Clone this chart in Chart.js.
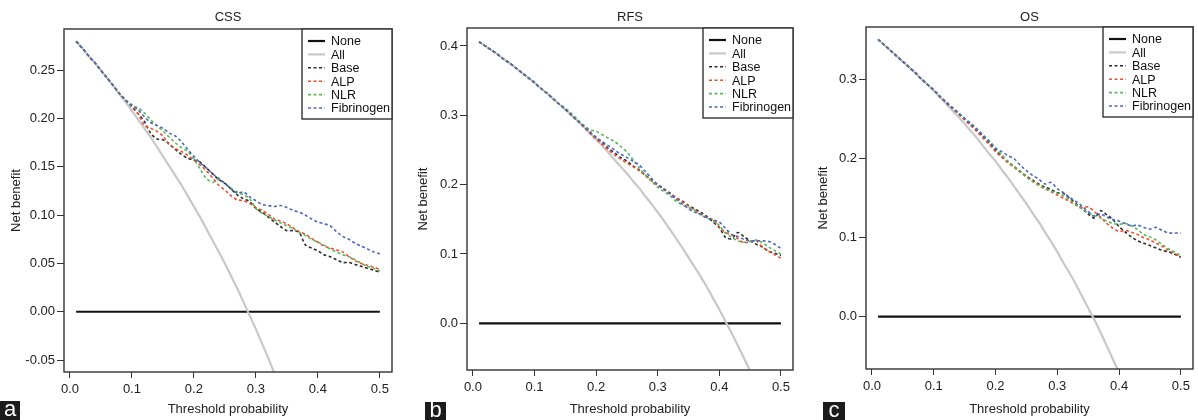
<!DOCTYPE html>
<html lang="en">
<head>
<meta charset="UTF-8">
<title>Decision curves: CSS, RFS, OS</title>
<style>
  body { margin: 0; background: #fff; width: 1198px; height: 420px; position: relative; overflow: hidden; font-family: "Liberation Sans", Arial, sans-serif; }
  canvas { position: absolute; top: 0; }
  .tag { position: absolute; background: #1c1c1c; color: #fff; font-size: 22px; line-height: 16px; text-align: center; }
</style>
</head>
<body>
<canvas id="cssChart" width="400" height="420" style="left:0px"></canvas>
<canvas id="rfsChart" width="400" height="420" style="left:400px"></canvas>
<canvas id="osChart" width="400" height="420" style="left:798px"></canvas>
<div class="tag" style="left:0px;top:401px;width:20px;height:19px">a</div>
<div class="tag" style="left:425px;top:402px;width:21px;height:18px">b</div>
<div class="tag" style="left:823px;top:402px;width:22px;height:18px">c</div>
<script src="https://cdn.jsdelivr.net/npm/chart.js"></script>
<script>
  // threshold probabilities (x) shared by every curve
  const thresholds = [0.01,0.02,0.03,0.04,0.05,0.06,0.07,0.08,0.09,0.10,
                      0.11,0.12,0.13,0.14,0.15,0.16,0.17,0.18,0.19,0.20,
                      0.21,0.22,0.23,0.24,0.25,0.26,0.27,0.28,0.29,0.30,
                      0.31,0.32,0.33,0.34,0.35,0.36,0.37,0.38,0.39,0.40,
                      0.41,0.42,0.43,0.44,0.45,0.46,0.47,0.48,0.49,0.50];
  const noneX = [0.01, 0.50];
  const noneY = [0, 0];
  const xTicks = [0, 0.1, 0.2, 0.3, 0.4, 0.5];

  // CSS
  const cssAll = [0.280,0.273,0.265,0.258,0.250,0.242,0.234,0.225,0.217,0.208,
                  0.199,0.190,0.181,0.171,0.161,0.151,0.141,0.131,0.120,0.109,
                  0.098,0.086,0.074,0.062,0.050,0.037,0.024,0.010,-0.004,-0.018,
                  -0.033,-0.048,-0.064,-0.080];
  const cssBase = [0.280,0.273,0.265,0.258,0.250,0.242,0.234,0.226,0.219,0.212,
                   0.205,0.197,0.185,0.179,0.178,0.174,0.168,0.163,0.159,0.157,
                   0.155,0.149,0.143,0.137,0.133,0.127,0.121,0.117,0.114,0.107,
                   0.103,0.098,0.093,0.088,0.084,0.084,0.082,0.069,0.066,0.063,
                   0.059,0.057,0.054,0.051,0.051,0.049,0.047,0.045,0.043,0.041];
  const cssAlp = [0.280,0.273,0.265,0.258,0.250,0.242,0.234,0.226,0.219,0.213,
                  0.205,0.193,0.190,0.187,0.182,0.173,0.169,0.166,0.162,0.157,
                  0.152,0.146,0.139,0.131,0.126,0.120,0.116,0.115,0.112,0.108,
                  0.105,0.101,0.096,0.094,0.091,0.087,0.083,0.080,0.076,0.072,
                  0.068,0.066,0.064,0.062,0.057,0.053,0.050,0.048,0.046,0.044];
  const cssNlr = [0.280,0.273,0.265,0.258,0.250,0.242,0.234,0.226,0.219,0.213,
                  0.211,0.206,0.199,0.193,0.187,0.181,0.175,0.170,0.166,0.158,
                  0.148,0.138,0.134,0.137,0.133,0.128,0.124,0.121,0.117,0.107,
                  0.102,0.099,0.095,0.092,0.089,0.086,0.082,0.079,0.075,0.072,
                  0.069,0.065,0.062,0.059,0.057,0.054,0.050,0.047,0.045,0.042];
  const cssFib = [0.280,0.273,0.265,0.258,0.250,0.242,0.234,0.226,0.219,0.214,
                  0.209,0.202,0.196,0.193,0.190,0.185,0.182,0.176,0.168,0.161,
                  0.154,0.149,0.143,0.138,0.133,0.127,0.123,0.124,0.119,0.115,
                  0.111,0.110,0.109,0.110,0.108,0.105,0.103,0.100,0.096,0.093,
                  0.091,0.089,0.083,0.078,0.075,0.071,0.068,0.065,0.062,0.060];

  // RFS
  const rfsAll = [0.406,0.400,0.394,0.388,0.381,0.375,0.368,0.361,0.354,0.347,
                  0.339,0.332,0.324,0.316,0.308,0.300,0.292,0.283,0.274,0.265,
                  0.256,0.246,0.236,0.226,0.216,0.205,0.195,0.183,0.172,0.160,
                  0.148,0.135,0.122,0.109,0.095,0.081,0.067,0.052,0.036,0.020,
                  0.003,-0.014,-0.032,-0.050,-0.069,-0.089];
  const rfsBase = [0.406,0.400,0.394,0.388,0.381,0.375,0.368,0.361,0.354,0.347,
                   0.339,0.332,0.324,0.316,0.309,0.300,0.292,0.284,0.276,0.268,
                   0.261,0.252,0.246,0.239,0.234,0.227,0.221,0.214,0.206,0.200,
                   0.194,0.188,0.181,0.176,0.170,0.165,0.160,0.154,0.146,0.138,
                   0.124,0.122,0.131,0.125,0.119,0.114,0.110,0.104,0.101,0.098];
  const rfsAlp = [0.406,0.400,0.394,0.388,0.381,0.375,0.368,0.361,0.354,0.347,
                  0.339,0.332,0.324,0.316,0.309,0.300,0.292,0.283,0.274,0.266,
                  0.258,0.250,0.243,0.237,0.231,0.226,0.220,0.213,0.205,0.199,
                  0.193,0.187,0.181,0.175,0.169,0.163,0.158,0.153,0.149,0.139,
                  0.131,0.128,0.122,0.116,0.118,0.119,0.110,0.104,0.099,0.094];
  const rfsNlr = [0.406,0.400,0.394,0.388,0.381,0.375,0.368,0.361,0.354,0.347,
                  0.339,0.332,0.324,0.316,0.310,0.303,0.294,0.286,0.279,0.277,
                  0.272,0.267,0.262,0.255,0.247,0.236,0.224,0.214,0.205,0.196,
                  0.190,0.184,0.176,0.171,0.167,0.163,0.156,0.152,0.148,0.141,
                  0.130,0.124,0.119,0.117,0.118,0.120,0.116,0.110,0.105,0.100];
  const rfsFib = [0.406,0.400,0.394,0.388,0.381,0.375,0.368,0.361,0.354,0.347,
                  0.339,0.332,0.324,0.316,0.309,0.300,0.292,0.284,0.276,0.268,
                  0.262,0.256,0.250,0.244,0.239,0.234,0.228,0.219,0.209,0.200,
                  0.193,0.186,0.179,0.172,0.165,0.160,0.157,0.152,0.149,0.146,
                  0.137,0.128,0.125,0.121,0.119,0.119,0.119,0.118,0.114,0.108];

  // OS
  const osAll = [0.351,0.344,0.337,0.330,0.323,0.316,0.309,0.301,0.294,0.286,
                 0.278,0.270,0.261,0.253,0.244,0.235,0.226,0.216,0.206,0.197,
                 0.186,0.176,0.165,0.154,0.143,0.131,0.120,0.107,0.095,0.082,
                 0.068,0.055,0.041,0.026,0.011,-0.004,-0.020,-0.037,-0.054,-0.071];
  const osBase = [0.351,0.344,0.337,0.330,0.323,0.316,0.309,0.301,0.294,0.287,
                  0.279,0.271,0.264,0.257,0.250,0.243,0.236,0.228,0.220,0.211,
                  0.203,0.196,0.190,0.184,0.178,0.173,0.168,0.164,0.161,0.157,
                  0.156,0.150,0.143,0.137,0.130,0.125,0.134,0.129,0.123,0.114,
                  0.107,0.101,0.096,0.093,0.090,0.087,0.084,0.082,0.079,0.075];
  const osAlp = [0.351,0.344,0.337,0.330,0.323,0.316,0.309,0.301,0.294,0.287,
                 0.278,0.271,0.264,0.257,0.249,0.242,0.234,0.226,0.218,0.209,
                 0.202,0.195,0.189,0.183,0.177,0.172,0.167,0.162,0.158,0.154,
                 0.150,0.146,0.141,0.138,0.139,0.133,0.126,0.118,0.112,0.108,
                 0.109,0.107,0.104,0.100,0.097,0.093,0.089,0.084,0.080,0.075];
  const osNlr = [0.351,0.344,0.337,0.330,0.323,0.316,0.309,0.301,0.294,0.287,
                 0.279,0.272,0.265,0.258,0.251,0.245,0.238,0.230,0.223,0.214,
                 0.205,0.197,0.190,0.183,0.177,0.171,0.166,0.162,0.159,0.156,
                 0.153,0.148,0.142,0.136,0.132,0.128,0.125,0.121,0.118,0.117,
                 0.118,0.115,0.110,0.104,0.101,0.097,0.091,0.086,0.082,0.077];
  const osFib = [0.351,0.344,0.337,0.330,0.323,0.316,0.309,0.301,0.294,0.287,
                 0.279,0.272,0.265,0.258,0.251,0.244,0.237,0.229,0.221,0.213,
                 0.209,0.204,0.200,0.192,0.185,0.179,0.174,0.168,0.170,0.162,
                 0.157,0.151,0.146,0.140,0.133,0.127,0.130,0.126,0.123,0.121,
                 0.118,0.115,0.116,0.113,0.111,0.113,0.109,0.106,0.106,0.106];

  const FONT = '"Liberation Sans", Arial, sans-serif';
  Chart.defaults.font.family = FONT;
  Chart.defaults.font.size = 13;
  Chart.defaults.color = '#222';

  const pts = (xs, ys) => ys.map((y, i) => ({x: xs[i], y: y}));

  // box round the plot, panel title and the legend in the upper right
  const framePlugin = {
    id: 'frame',
    afterDraw(chart, args, opts) {
      const {ctx, chartArea: a} = chart;
      ctx.save();
      ctx.strokeStyle = '#333';
      ctx.lineWidth = 1.4;
      ctx.strokeRect(a.left, a.top, a.right - a.left, a.bottom - a.top);

      ctx.fillStyle = '#222';
      ctx.font = '13px ' + FONT;
      ctx.textAlign = 'center';
      ctx.textBaseline = 'middle';
      ctx.fillText(opts.title, (a.left + a.right) / 2, 17);

      const w = 90, h = 90;
      const lx = a.right - w, ly = a.top;
      ctx.fillStyle = '#fff';
      ctx.fillRect(lx, ly, w, h);
      ctx.strokeRect(lx, ly, w, h);
      ctx.textAlign = 'left';
      ctx.font = '12.5px ' + FONT;
      chart.data.datasets.forEach((ds, i) => {
        const ry = ly + 12 + i * 13.4;
        ctx.beginPath();
        ctx.setLineDash(ds.borderDash || []);
        ctx.strokeStyle = ds.borderColor;
        ctx.lineWidth = ds.borderWidth;
        ctx.moveTo(lx + 6, ry);
        ctx.lineTo(lx + 23, ry);
        ctx.stroke();
        ctx.setLineDash([]);
        ctx.fillStyle = '#111';
        ctx.fillText(ds.label, lx + 29, ry + 1);
      });
      ctx.restore();
    }
  };

  function makePanel(id, title, allY, base, alp, nlr, fib, yMin, yMax, yTicks, dec, lay) {
    const dashed = (label, color, ys, order) => ({
      label: label, data: pts(thresholds, ys), borderColor: color,
      borderWidth: 1.6, borderDash: [3, 2.5], pointRadius: 0, tension: 0.3, order: order
    });
    new Chart(document.getElementById(id), {
      type: 'line',
      data: {
        datasets: [
          {label: 'None', data: pts(noneX, noneY), borderColor: '#111', borderWidth: 2.2, pointRadius: 0, order: 5},
          {label: 'All', data: pts(thresholds, allY), borderColor: '#c8c8c8', borderWidth: 2.2, pointRadius: 0, tension: 0.3, order: 4},
          dashed('Base', '#2b2b2b', base, 3),
          dashed('ALP', '#f0502f', alp, 2),
          dashed('NLR', '#5cb85c', nlr, 1),
          dashed('Fibrinogen', '#4a68c0', fib, 0)
        ]
      },
      options: {
        responsive: false,
        animation: false,
        devicePixelRatio: 1,
        layout: {padding: {left: 0, top: lay.top, right: lay.right, bottom: 0}},
        plugins: {
          legend: {display: false},
          tooltip: {enabled: false},
          frame: {title: title}
        },
        scales: {
          x: {
            type: 'linear', min: -0.0096, max: 0.5196,
            afterBuildTicks: s => { s.ticks = xTicks.map(v => ({value: v})); },
            afterFit: s => { s.height = lay.xH; },
            border: {display: false},
            grid: {drawOnChartArea: false, drawTicks: true, tickLength: 6, color: '#333'},
            ticks: {padding: 4, maxRotation: 0, autoSkip: false, callback: v => Number(v).toFixed(1)},
            title: {display: true, text: 'Threshold probability', padding: {top: 0, bottom: 3}}
          },
          y: {
            type: 'linear', min: yMin, max: yMax,
            afterBuildTicks: s => { s.ticks = yTicks.map(v => ({value: v})); },
            afterFit: s => { s.width = lay.yW; },
            border: {display: false},
            grid: {drawOnChartArea: false, drawTicks: true, tickLength: 7, color: '#333'},
            ticks: {padding: 2, autoSkip: false, callback: v => Number(v).toFixed(dec)},
            title: {display: true, text: 'Net benefit', padding: {top: lay.yT, bottom: 0}}
          }
        }
      },
      plugins: [framePlugin]
    });
  }

  makePanel('cssChart', 'CSS', cssAll, cssBase, cssAlp, cssNlr, cssFib,
            -0.0624, 0.2928, [-0.05, 0, 0.05, 0.10, 0.15, 0.20, 0.25], 2,
            {top: 29, right: 8, xH: 48, yW: 64, yT: 9});
  makePanel('rfsChart', 'RFS', rfsAll, rfsBase, rfsAlp, rfsNlr, rfsFib,
            -0.0673, 0.4259, [0, 0.1, 0.2, 0.3, 0.4], 1,
            {top: 28, right: 7, xH: 50, yW: 67, yT: 16});
  makePanel('osChart', 'OS', osAll, osBase, osAlp, osNlr, osFib,
            -0.0663, 0.3668, [0, 0.1, 0.2, 0.3], 1,
            {top: 27, right: 5, xH: 51, yW: 68, yT: 18});
</script>
</body>
</html>
